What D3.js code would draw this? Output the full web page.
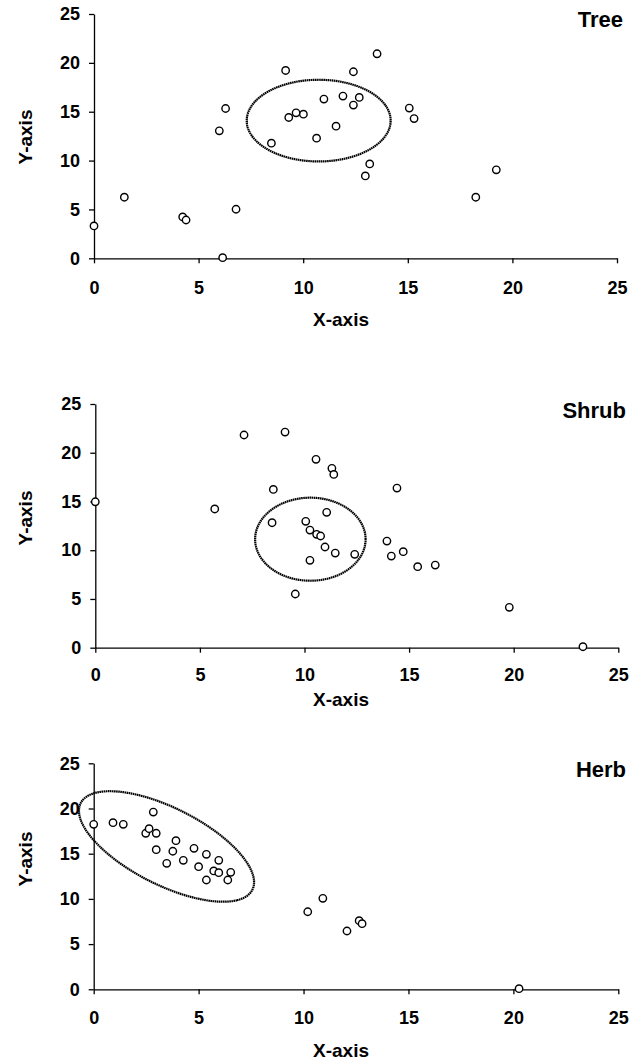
<!DOCTYPE html>
<html>
<head>
<meta charset="utf-8">
<script src="https://cdn.jsdelivr.net/npm/d3@7"></script>
<style>
  body { margin: 0; background: #fff; }
  text { font-family: "Liberation Sans", Arial, sans-serif; font-weight: bold; fill: #000; }
  .axis path, .axis line { stroke: #000; stroke-width: 1.3; }
  .axis text { font-size: 18px; }
</style>
</head>
<body>
<script>
const w = 639;
const h = 1062;

// tick values shared by all three plots
const xTicks = [0, 5, 10, 15, 20, 25];
const yTicks = [0, 5, 10, 15, 20, 25];

const panelNames = ["Tree", "Shrub", "Herb"];

// Tree
const treeX = [0, 1.45, 4.24, 4.40, 6.15, 6.79, 5.99, 6.29, 8.48, 9.16, 9.31, 9.66, 10.01, 10.64,
               10.99, 11.57, 11.90, 12.40, 12.40, 12.68, 13.53, 13.18, 12.97, 15.07, 15.30, 18.25, 19.23];
const treeY = [3.31, 6.25, 4.23, 3.92, 0.06, 5.02, 13.04, 15.33, 11.78, 19.22, 14.41, 14.89, 14.75, 12.29,
               16.29, 13.52, 16.60, 19.09, 15.68, 16.46, 20.93, 9.66, 8.43, 15.37, 14.30, 6.25, 9.05];

// Shrub
const shrubX = [0, 5.71, 7.11, 9.07, 8.51, 8.45, 9.56, 10.06, 10.26, 10.26, 10.55, 10.58, 10.77, 11.06,
                10.98, 11.31, 11.40, 11.47, 12.40, 14.42, 13.94, 14.15, 14.72, 15.41, 16.25, 19.79, 23.31];
const shrubY = [14.97, 14.23, 21.82, 22.12, 16.24, 12.82, 5.51, 12.96, 12.07, 8.96, 19.32, 11.63, 11.46, 13.89,
                10.33, 18.40, 17.78, 9.71, 9.58, 16.38, 10.94, 9.40, 9.85, 8.31, 8.48, 4.14, 0.10];

// Herb
const herbX = [0, 0.92, 1.41, 2.48, 2.64, 2.84, 2.98, 2.98, 3.48, 3.77, 3.92, 4.27, 4.78, 5.00, 5.37,
               5.37, 5.72, 5.96, 5.96, 6.39, 6.53, 10.20, 10.92, 12.07, 12.65, 12.79, 20.27];
const herbY = [18.25, 18.43, 18.25, 17.26, 17.77, 19.61, 17.26, 15.44, 13.94, 15.27, 16.44, 14.27, 15.60, 13.56, 14.93,
               12.09, 13.09, 14.27, 12.90, 12.09, 12.94, 8.58, 10.06, 6.45, 7.59, 7.26, 0.07];

// cluster ellipses, in data units (angle in degrees, data space)
const ellipseCx = [10.74, 10.28, 3.47];
const ellipseCy = [14.09, 11.13, 15.80];
const ellipseRx = [3.44, 2.64, 6.83];
const ellipseRy = [4.18, 4.26, 2.85];
const ellipseAngle = [0, 0, -60.6];

const seriesX = [treeX, shrubX, herbX];
const seriesY = [treeY, shrubY, herbY];

// where each plot sits on the page
const layout = [
    { left: 94,   right: 617,   bottom: 258.3, top: 14,    pad: 18, xTitleY: 326,  yTitleY: 137, nameY: 27,  nameX: 623 },
    { left: 95.3, right: 618.3, bottom: 647.7, top: 404,   pad: 16, xTitleY: 706,  yTitleY: 518, nameY: 418, nameX: 626 },
    { left: 93.7, right: 618.3, bottom: 989.3, top: 763.3, pad: 17, xTitleY: 1057, yTitleY: 859, nameY: 777, nameX: 626 }
];

let svg = d3.select("body")
    .append("svg")
    .attr("width", w)
    .attr("height", h);

panelNames.forEach((name, i) => {
    const L = layout[i];
    const x = d3.scaleLinear().domain([0, 25]).range([L.left, L.right]);
    const y = d3.scaleLinear().domain([0, 25]).range([L.bottom, L.top]);

    const g = svg.append("g");

    g.append("g")
        .attr("class", "axis")
        .attr("transform", "translate(0," + y(0) + ")")
        .call(d3.axisBottom(x).tickValues(xTicks).tickSize(5).tickSizeOuter(0).tickPadding(L.pad));

    g.append("g")
        .attr("class", "axis")
        .attr("transform", "translate(" + x(0) + ",0)")
        .call(d3.axisLeft(y).tickValues(yTicks).tickSize(5).tickSizeOuter(0).tickPadding(9));

    svg.selectAll(".axis").attr("font-family", null).attr("font-size", null);

    // ellipse outline, built in data space then mapped through the scales
    const phi = ellipseAngle[i] * Math.PI / 180;
    const pts = d3.range(0, 240).map(k => {
        const t = k / 240 * 2 * Math.PI;
        const dx = ellipseRx[i] * Math.cos(t);
        const dy = ellipseRy[i] * Math.sin(t);
        return [ellipseCx[i] + dx * Math.cos(phi) - dy * Math.sin(phi),
                ellipseCy[i] + dx * Math.sin(phi) + dy * Math.cos(phi)];
    });
    g.append("path")
        .attr("d", d3.line().x(d => x(d[0])).y(d => y(d[1])).curve(d3.curveLinearClosed)(pts))
        .attr("fill", "none")
        .attr("stroke", "#000")
        .attr("stroke-width", 2.2)
        .attr("stroke-dasharray", "1.6,0.5");

    const pairs = seriesX[i].map((v, j) => [v, seriesY[i][j]]);
    g.selectAll("circle")
        .data(pairs)
        .enter()
        .append("circle")
        .attr("cx", d => x(d[0]))
        .attr("cy", d => y(d[1]))
        .attr("r", 3.7)
        .attr("fill", "#fff")
        .attr("stroke", "#000")
        .attr("stroke-width", 1.4);

    g.append("text")
        .attr("x", L.nameX)
        .attr("y", L.nameY)
        .attr("text-anchor", "end")
        .style("font-size", "22px")
        .text(name);

    g.append("text")
        .attr("x", 341)
        .attr("y", L.xTitleY)
        .attr("text-anchor", "middle")
        .style("font-size", "19px")
        .text("X-axis");

    g.append("text")
        .attr("transform", "translate(32," + L.yTitleY + ") rotate(-90)")
        .attr("text-anchor", "middle")
        .style("font-size", "19px")
        .text("Y-axis");
});
</script>
</body>
</html>
